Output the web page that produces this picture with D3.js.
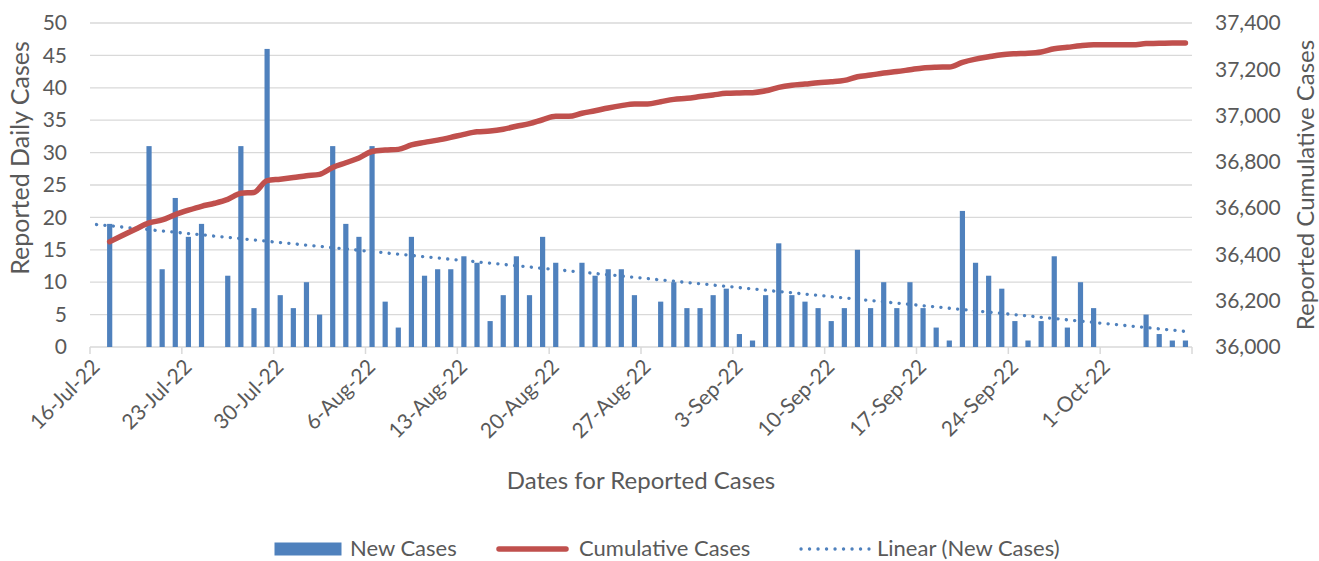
<!DOCTYPE html>
<html>
<head>
<meta charset="utf-8">
<title>Reported cases</title>
<script src="https://d3js.org/d3.v7.min.js"></script>
<style>
  body { margin: 0; background: #fff; }
  text { font-family: Lato, 'Open Sans', sans-serif; fill: #595959; }
</style>
</head>
<body>
<svg width="1319" height="561"></svg>
<script>
// axis runs from the first date to the day after the last one
var startDate = "2022-07-16";
var endDate = "2022-10-08";

// daily new cases, one per day from 16-Jul-22 (null = nothing reported)
var newCases = [
  null, 19, null, null, 31, 12, 23, 17, 19, null,
  11, 31, 6, 46, 8, 6, 10, 5, 31, 19,
  17, 31, 7, 3, 17, 11, 12, 12, 14, 13,
  4, 8, 14, 8, 17, 13, null, 13, 11, 12,
  12, 8, null, 7, 10, 6, 6, 8, 9, 2,
  1, 8, 16, 8, 7, 6, 4, 6, 15, 6,
  10, 6, 10, 6, 3, 1, 21, 13, 11, 9,
  4, 1, 4, 14, 3, 10, 6, null, null, null,
  5, 2, 1, 1
];

// cumulative cases, same days
var cumulativeCases = [
  null, 36455, 36483, 36510, 36536, 36549, 36572, 36591, 36608, 36621,
  36638, 36664, 36668, 36719, 36725, 36732, 36740, 36746, 36776, 36796,
  36817, 36845, 36851, 36854, 36873, 36884, 36894, 36906, 36919, 36930,
  36933, 36941, 36954, 36965, 36982, 36997, 36997, 37010, 37021, 37033,
  37043, 37050, 37050, 37060, 37070, 37075, 37082, 37089, 37096, 37098,
  37099, 37107, 37122, 37131, 37136, 37142, 37146, 37152, 37168, 37175,
  37184, 37190, 37198, 37206, 37209, 37210, 37230, 37244, 37254, 37263,
  37267, 37269, 37275, 37289, 37295, 37302, 37306, 37306, 37306, 37306,
  37311, 37312, 37314, 37314
];

// linear trend of new cases, read at its two ends
var trendDates = ["2022-07-16", "2022-10-07"];
var trendValues = [18.9, 2.4];

var leftTicks = [0, 5, 10, 15, 20, 25, 30, 35, 40, 45, 50];
var rightTicks = [36000, 36200, 36400, 36600, 36800, 37000, 37200, 37400];

var parse = d3.timeParse("%Y-%m-%d");
var t0 = parse(startDate), t1 = parse(endDate);
var days = newCases.map(function(d, i) { return d3.timeDay.offset(t0, i); });

var svg = d3.select("svg");
var pL = 90, pR = 1192, pT = 23, pB = 347;

var x = d3.scaleTime().domain([t0, t1]).range([pL, pR]);
var yL = d3.scaleLinear().domain([0, 50]).range([pB, pT]);
var yR = d3.scaleLinear().domain([36000, 37400]).range([pB, pT]);
// bars and points sit in the middle of their day
function xc(d) { return x(d3.timeHour.offset(d, 12)); }

// gridlines
svg.append("g").selectAll("line")
  .data(leftTicks.slice(1))
  .join("line")
    .attr("x1", pL).attr("x2", pR)
    .attr("y1", yL).attr("y2", yL)
    .attr("stroke", "#d9d9d9").attr("stroke-width", 1.3);

// left axis
var gl = svg.append("g").attr("transform", "translate(" + pL + ",0)")
  .call(d3.axisLeft(yL).tickValues(leftTicks).tickSize(0).tickPadding(23));
gl.select(".domain").remove();
gl.selectAll("text").attr("font-size", 21).attr("font-family", null).attr("fill", "#595959");

// right axis
var gr = svg.append("g").attr("transform", "translate(" + pR + ",0)")
  .call(d3.axisRight(yR).tickValues(rightTicks).tickSize(0).tickPadding(23).tickFormat(d3.format(",")));
gr.select(".domain").remove();
gr.selectAll("text").attr("font-size", 21).attr("font-family", null).attr("fill", "#595959");

// x axis
var xTicks = d3.timeDay.range(t0, d3.timeDay.offset(t1, 1), 7);
var gx = svg.append("g");
gx.append("line")
  .attr("x1", pL).attr("x2", pR).attr("y1", pB).attr("y2", pB)
  .attr("stroke", "#d9d9d9").attr("stroke-width", 1.5);
gx.selectAll(".tk").data(xTicks).join("line").attr("class", "tk")
  .attr("x1", x).attr("x2", x).attr("y1", pB).attr("y2", pB + 7)
  .attr("stroke", "#d9d9d9").attr("stroke-width", 1.5);
var fmt = d3.timeFormat("%-d-%b-%y");
gx.selectAll("text").data(xTicks.filter(function(d) { return d < t1; })).join("text")
  .attr("transform", function(d) { return "translate(" + (x(d) + 6) + ",363) rotate(-45)"; })
  .attr("text-anchor", "end").attr("dy", "0.35em")
  .attr("font-size", 21)
  .text(fmt);

// bars
svg.append("g").selectAll("rect")
  .data(days.filter(function(d, i) { return newCases[i] != null; }))
  .join("rect")
    .attr("x", function(d) { return xc(d) - 2.6; })
    .attr("width", 5.2)
    .attr("y", function(d) { return yL(newCases[d3.timeDay.count(t0, d)]); })
    .attr("height", function(d) { return pB - yL(newCases[d3.timeDay.count(t0, d)]); })
    .attr("fill", "#4f81bd");

// trend line
var trend = trendDates.map(function(d, i) { return [parse(d), trendValues[i]]; });
svg.append("path")
  .datum(trend)
  .attr("d", d3.line().x(function(d) { return xc(d[0]); }).y(function(d) { return yL(d[1]); }))
  .attr("fill", "none").attr("stroke", "#4f81bd")
  .attr("stroke-width", 3.3).attr("stroke-linecap", "round")
  .attr("stroke-dasharray", "0.1 8.3");

// cumulative line
var cum = days.map(function(d, i) { return [d, cumulativeCases[i]]; })
  .filter(function(d) { return d[1] != null; });
svg.append("path")
  .datum(cum)
  .attr("d", d3.line().curve(d3.curveMonotoneX)
    .x(function(d) { return xc(d[0]); }).y(function(d) { return yR(d[1]); }))
  .attr("fill", "none").attr("stroke", "#c0504d")
  .attr("stroke-width", 5.5).attr("stroke-linecap", "round").attr("stroke-linejoin", "round");

// axis titles
svg.append("text")
  .attr("transform", "translate(20,158) rotate(-90)")
  .attr("text-anchor", "middle").attr("dy", "0.35em").attr("font-size", 25)
  .text("Reported Daily Cases");
svg.append("text")
  .attr("transform", "translate(1306," + ((pT + pB) / 2) + ") rotate(-90)")
  .attr("text-anchor", "middle").attr("dy", "0.35em").attr("font-size", 24)
  .text("Reported Cumulative Cases");
svg.append("text")
  .attr("x", (pL + pR) / 2).attr("y", 481)
  .attr("text-anchor", "middle").attr("dy", "0.35em").attr("font-size", 24)
  .text("Dates for Reported Cases");

// legend
var lg = svg.append("g").attr("font-size", 22);
lg.append("rect").attr("x", 274.5).attr("y", 542.5).attr("width", 67).attr("height", 13).attr("fill", "#4f81bd");
lg.append("text").attr("x", 350).attr("y", 548).attr("dy", "0.35em").text("New Cases");
lg.append("line").attr("x1", 499).attr("x2", 566).attr("y1", 549).attr("y2", 549)
  .attr("stroke", "#c0504d").attr("stroke-width", 5.5).attr("stroke-linecap", "round");
lg.append("text").attr("x", 579).attr("y", 548).attr("dy", "0.35em").text("Cumulative Cases");
lg.append("line").attr("x1", 801).attr("x2", 869).attr("y1", 549).attr("y2", 549)
  .attr("stroke", "#4f81bd").attr("stroke-width", 3.3).attr("stroke-linecap", "round")
  .attr("stroke-dasharray", "0.1 8.4");
lg.append("text").attr("x", 877).attr("y", 548).attr("dy", "0.35em").text("Linear (New Cases)");
</script>
</body>
</html>
